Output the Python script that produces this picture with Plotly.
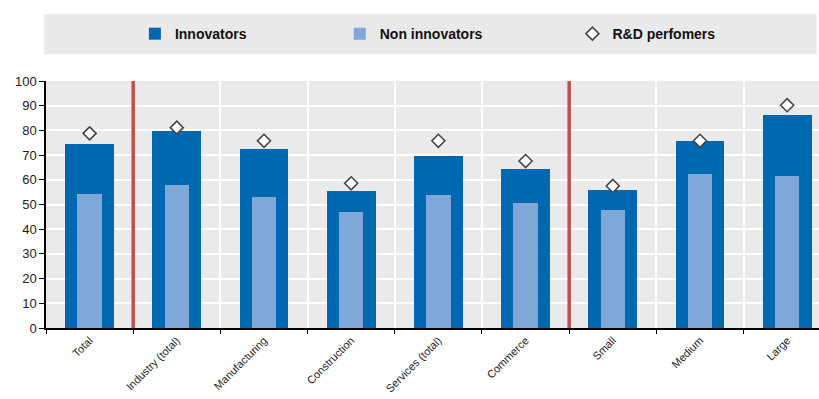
import plotly.graph_objects as go

categories = ["Total", "Industry (total)", "Manufacturing", "Construction",
              "Services (total)", "Commerce", "Small", "Medium", "Large"]
innovators = [74.4, 79.8, 72.6, 55.3, 69.5, 64.2, 56.0, 75.6, 86.2]
non_innovators = [54.1, 57.8, 53.0, 47.1, 53.7, 50.6, 47.6, 62.5, 61.4]
rd_performers = [78.8, 81.1, 75.8, 58.6, 75.8, 67.6, 57.5, 75.8, 90.2]
y_ticks = list(range(0, 101, 10))
separators = [0.5, 5.5]

FONT = "Liberation Sans Narrow, Arial Narrow, Liberation Sans, Arial, sans-serif"
DARK = "#0067B1"
LIGHT = "#7FA7D8"

fig = go.Figure()
fig.add_trace(go.Bar(x=categories, y=innovators, width=0.56, name="Innovators",
                     marker=dict(color=DARK, line=dict(width=0)), legend="legend",
                     showlegend=True))
fig.add_trace(go.Bar(x=categories, y=non_innovators, width=0.28, name="Non innovators",
                     marker=dict(color=LIGHT, line=dict(width=0)), legend="legend2",
                     showlegend=True))
fig.add_trace(go.Scatter(x=categories, y=rd_performers, mode="markers", name="R&D perfomers",
                         marker=dict(symbol="diamond", size=10, color="white",
                                     line=dict(color="#444444", width=1.6)),
                         legend="legend3", showlegend=True))

for s in separators:
    fig.add_shape(type="line", xref="x", yref="y", x0=s, x1=s, y0=0, y1=100,
                  line=dict(color="#C0504D", width=3.5), layer="above")

# legend background box
fig.add_shape(type="rect", xref="paper", yref="paper", x0=-0.0025, x1=0.997,
              y0=1.108, y1=1.27, fillcolor="#E9E9E9", line=dict(width=0), layer="below")

leg_common = dict(orientation="h", yanchor="middle", xanchor="left", y=1.19,
                  bgcolor="rgba(0,0,0,0)",
                  font=dict(family=FONT, size=14, color="#111111", weight="bold"),
                  itemwidth=30, tracegroupgap=0)
fig.update_layout(
    width=819, height=399,
    margin=dict(l=46, r=0, t=81, b=71, autoexpand=False),
    paper_bgcolor="white",
    plot_bgcolor="#EAEAEA",
    barmode="overlay",
    bargap=0,
    showlegend=True,
    legend=dict(x=0.115, **leg_common),
    legend2=dict(x=0.380, **leg_common),
    legend3=dict(x=0.681, **leg_common),
    font=dict(family=FONT, size=12, color="#222222"),
)
fig.update_xaxes(range=[-0.5, 8.365], tickson="boundaries", showgrid=True,
                 gridcolor="white", gridwidth=1.5, ticks="outside", ticklen=4,
                 tickcolor="black", showline=True, linecolor="black", linewidth=1.5,
                 automargin=False,
                 tickangle=-45, tickfont=dict(family=FONT, size=11, color="#222222"))
fig.update_yaxes(range=[0, 100], tickvals=y_ticks, showgrid=True, gridcolor="white",
                 gridwidth=1.5, ticks="outside", ticklen=5, tickcolor="black",
                 showline=True, linecolor="black", linewidth=1.5, zeroline=False,
                 automargin=False,
                 tickfont=dict(family=FONT, size=13, color="#222222"))

fig.write_html("out.html")
